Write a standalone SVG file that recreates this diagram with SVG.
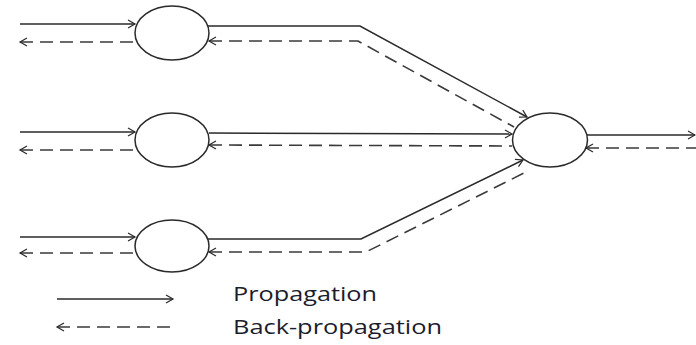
<svg xmlns="http://www.w3.org/2000/svg" width="696" height="345" viewBox="0 0 696 345">
  <style>
    .node { fill: #ffffff; stroke: #2a2a2a; stroke-width: 1.5; }
    .fwd { fill: none; stroke: #2a2a2a; stroke-width: 1.5; }
    .back { fill: none; stroke: #3a3a3a; stroke-width: 1.6; stroke-dasharray: 13 7; }
    .lbl { font-family: "Open Sans", "Liberation Sans", sans-serif; font-size: 20px; fill: #1c1c2c; }
  </style>
  <defs>
    <marker id="arr" markerUnits="userSpaceOnUse" markerWidth="12" markerHeight="12" viewBox="-10 -6 12 12" refX="0" refY="0" orient="auto-start-reverse">
      <path d="M-7,-4 L0,0 L-7,4" fill="none" stroke="#2a2a2a" stroke-width="1.2"/>
    </marker>
  </defs>
  <rect width="696" height="345" fill="#ffffff"/>

  <g id="connectors">
    <!-- inputs to first layer -->
    <line class="fwd" x1="20" y1="24" x2="135" y2="24" marker-end="url(#arr)"/>
    <line class="back" x1="20" y1="42" x2="135" y2="42" marker-start="url(#arr)"/>
    <line class="fwd" x1="20" y1="132" x2="135" y2="132" marker-end="url(#arr)"/>
    <line class="back" x1="20" y1="150" x2="135" y2="150" marker-start="url(#arr)"/>
    <line class="fwd" x1="20" y1="237" x2="135" y2="237" marker-end="url(#arr)"/>
    <line class="back" x1="20" y1="253" x2="135" y2="253" marker-start="url(#arr)"/>

    <!-- first layer to output node -->
    <polyline class="fwd" points="208,26 360,26 527,117" marker-end="url(#arr)"/>
    <polyline class="back" points="209,41 358,41 514,127" marker-start="url(#arr)"/>
    <line class="fwd" x1="209" y1="133" x2="512" y2="134" marker-end="url(#arr)"/>
    <line class="back" x1="209" y1="145" x2="512" y2="146" marker-start="url(#arr)"/>
    <polyline class="fwd" points="208,239 361,239 523,160" marker-end="url(#arr)"/>
    <polyline class="back" points="209,252 366,252 528,171" marker-start="url(#arr)"/>

    <!-- output -->
    <line class="fwd" x1="587" y1="135" x2="695" y2="135" marker-end="url(#arr)"/>
    <line class="back" x1="586" y1="148" x2="696" y2="148" marker-start="url(#arr)"/>
  </g>

  <g id="node-top"><ellipse class="node" cx="172" cy="33" rx="37" ry="27"/></g>
  <g id="node-mid"><ellipse class="node" cx="172" cy="140" rx="37" ry="27"/></g>
  <g id="node-bot"><ellipse class="node" cx="172" cy="246" rx="37" ry="26"/></g>
  <g id="node-out"><ellipse class="node" cx="550" cy="140" rx="37.5" ry="27"/></g>

  <g id="legend">
    <line class="fwd" x1="57" y1="299" x2="173" y2="299" marker-end="url(#arr)"/>
    <line class="back" x1="57" y1="327" x2="173" y2="327" marker-start="url(#arr)"/>
    <text class="lbl" x="233" y="301" textLength="144" lengthAdjust="spacingAndGlyphs">Propagation</text>
    <text class="lbl" x="233" y="334" textLength="209" lengthAdjust="spacingAndGlyphs">Back-propagation</text>
  </g>
</svg>
